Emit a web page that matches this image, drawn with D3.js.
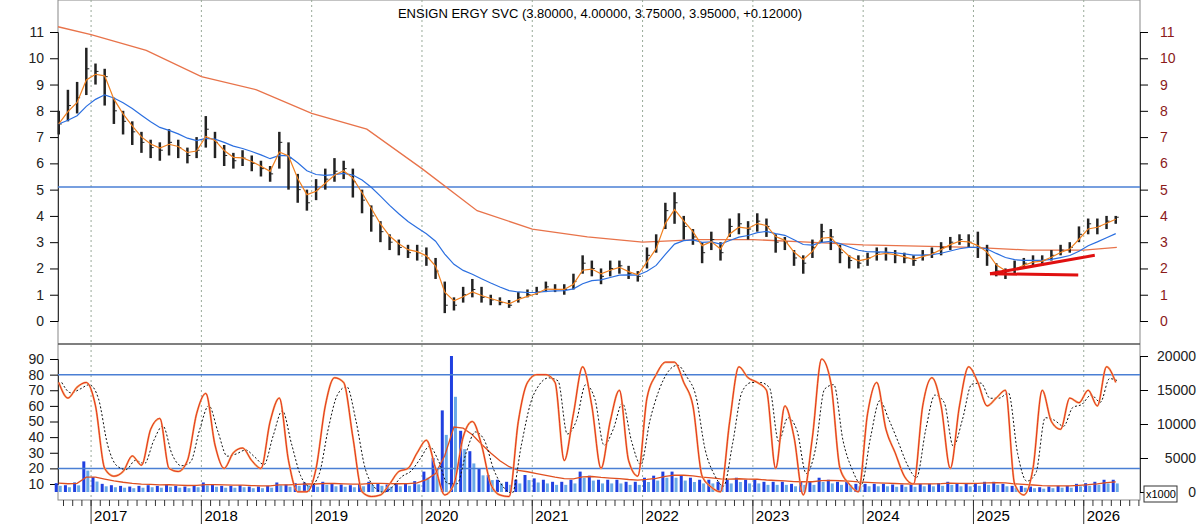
<!DOCTYPE html><html><head><meta charset="utf-8">
<script src="https://cdn.jsdelivr.net/npm/d3@7"></script>
<style>body{margin:0;background:#fff}svg{font-family:Arial,"Liberation Sans",sans-serif}</style></head><body>
<svg id="c" width="1200" height="524"></svg>
<script>
// monthly data, Sep 2016 .. Apr 2026
const closes=[7.5,8.2,8.5,9.6,9.5,9.3,8.0,7.6,7.2,6.8,6.6,6.5,6.8,6.6,6.3,6.5,7.3,6.8,6.3,6.1,6.2,6.0,5.8,5.6,6.8,6.2,5.0,4.5,5.0,5.4,5.7,5.8,5.3,4.6,4.0,3.4,3.0,2.8,2.6,2.6,2.4,1.9,0.6,0.6,1.0,1.2,0.9,0.8,0.7,0.6,0.9,1.0,1.1,1.3,1.2,1.2,1.5,2.2,2.0,1.7,2.0,2.1,1.8,1.7,2.5,3.0,4.2,4.5,3.6,3.2,2.6,3.1,2.6,3.6,3.7,3.5,3.8,3.6,3.0,3.0,2.4,2.2,2.8,3.4,3.2,2.6,2.3,2.2,2.4,2.6,2.6,2.5,2.4,2.3,2.5,2.6,2.8,3.0,3.1,3.0,2.8,2.5,1.9,1.8,2.0,2.2,2.3,2.3,2.5,2.7,2.8,3.3,3.7,3.6,3.8,3.95];
const highs=[8.0,8.8,9.1,10.4,9.8,9.6,8.5,8.0,7.6,7.2,6.9,6.8,7.3,6.9,6.6,7.0,7.8,7.2,6.7,6.4,6.5,6.3,6.1,5.9,7.2,6.8,5.6,5.0,5.4,5.8,6.2,6.1,5.8,5.0,4.4,3.8,3.3,3.1,2.9,2.9,2.8,2.4,1.5,0.9,1.3,1.6,1.3,1.0,0.9,0.8,1.1,1.2,1.3,1.5,1.4,1.4,1.8,2.5,2.3,2.0,2.3,2.3,2.1,1.9,2.8,3.3,4.5,4.9,4.0,3.5,3.0,3.4,3.0,3.9,4.1,3.8,4.1,3.9,3.3,3.2,2.7,2.5,3.1,3.7,3.5,2.9,2.5,2.5,2.6,2.8,2.8,2.7,2.6,2.5,2.7,2.8,3.0,3.2,3.3,3.3,3.4,2.9,2.2,2.0,2.3,2.4,2.5,2.5,2.7,2.9,3.0,3.6,3.9,3.9,4.0,4.0];
const lows=[7.1,7.6,7.9,8.6,9.0,8.2,7.5,7.1,6.7,6.4,6.2,6.1,6.3,6.2,6.0,6.2,6.6,6.2,5.9,5.8,5.9,5.7,5.5,5.3,5.8,5.0,4.5,4.2,4.6,5.0,5.3,5.4,4.7,4.1,3.4,3.0,2.7,2.5,2.4,2.3,2.1,1.6,0.3,0.4,0.7,0.9,0.7,0.6,0.6,0.5,0.7,0.9,1.0,1.1,1.1,1.0,1.2,1.8,1.7,1.4,1.7,1.8,1.6,1.5,2.0,2.6,3.5,3.7,3.1,2.9,2.2,2.7,2.3,3.2,3.3,3.1,3.4,3.2,2.6,2.7,2.1,1.8,2.4,3.0,2.7,2.2,2.0,2.0,2.1,2.3,2.3,2.2,2.2,2.1,2.3,2.4,2.5,2.7,2.9,2.8,2.4,2.1,1.7,1.6,1.8,2.0,2.1,2.1,2.3,2.5,2.6,3.0,3.3,3.3,3.5,3.7];
const stoch=[75,65,72,75,60,20,15,18,28,22,45,52,20,18,25,55,68,35,20,30,33,25,20,50,65,25,5,5,20,60,78,75,40,5,2,3,10,18,20,30,38,20,3,10,40,50,35,10,3,2,50,75,80,80,75,25,55,85,60,20,50,70,25,15,65,80,88,88,75,60,15,8,5,50,85,78,75,70,20,60,40,3,40,90,75,20,10,5,55,75,45,30,15,10,60,78,60,20,60,85,75,60,65,70,10,3,20,70,50,45,65,62,70,60,85,75];
const volume=[1300,1000,1400,4500,2200,1200,1000,900,800,900,1000,900,1100,900,800,1000,1400,1100,900,900,1000,800,800,900,1400,1100,1300,1400,1100,1500,1200,1100,1000,1200,1500,1300,1100,1200,1300,1600,3000,5000,12000,20000,9000,6000,3500,2500,1800,1500,1800,2500,2000,1800,1500,1500,1800,3000,2400,1800,1800,1800,1500,1500,2100,2400,3000,3000,2400,2100,1800,1800,1500,1800,2100,1800,1800,1500,1500,1500,1200,1500,1500,2100,1800,1500,1500,1200,1200,1200,1200,1100,1100,1100,1200,1200,1300,1500,1200,1200,1300,1500,1500,1200,900,900,800,700,800,900,900,1200,1300,1500,1800,1800];
const longMA=[[2016.7,11.2],[2017.0,10.9],[2017.5,10.3],[2018.0,9.3],[2018.5,8.8],[2019.0,7.9],[2019.5,7.3],[2020.0,5.8],[2020.5,4.2],[2021.0,3.5],[2021.5,3.2],[2022.0,3.0],[2022.5,3.1],[2023.0,3.1],[2023.5,3.0],[2024.0,2.9],[2024.5,2.85],[2025.0,2.8],[2025.5,2.7],[2026.0,2.7],[2026.3,2.8]];
const years=[2017,2018,2019,2020,2021,2022,2023,2024,2025,2026];
const priceTicks=[0,1,2,3,4,5,6,7,8,9,10,11];
const stochTicks=[10,20,30,40,50,60,70,80,90];
const volTicks=[0,5000,10000,15000,20000];
const support=5.1, trendA=[[2025.15,1.8],[2026.1,2.5]], trendB=[[2025.15,1.8],[2025.95,1.75]];

const svg=d3.select("#c");
const L=58,R=1140,T0=0,B0=344,B1=500;
const n=Math.min(closes.length,highs.length,lows.length,stoch.length,volume.length);
const t=i=>2016+8/12+i/12+0.04;
const x=d3.scaleLinear().domain([2016.70,2026.51]).range([L,R]);
const y=d3.scaleLinear().domain([0,11]).range([321,32]);
const ys=d3.scaleLinear().domain([10,90]).range([484,359]);
const yv=d3.scaleLinear().domain([0,20000]).range([492,356]);
const ema=(a,p)=>{const k=2/(p+1);let r=[],v=a[0];a.forEach((d,i)=>{v=i?d*k+v*(1-k):d;r.push(v)});return r};

svg.append("rect").attr("x",L).attr("y",T0).attr("width",R-L).attr("height",B1-T0).attr("fill","none").attr("stroke","#888");
years.forEach(yr=>{svg.append("line").attr("x1",x(yr)).attr("x2",x(yr)).attr("y1",T0).attr("y2",B1).attr("stroke","#9a9").attr("stroke-dasharray","2,3");
 svg.append("line").attr("x1",x(yr)).attr("x2",x(yr)).attr("y1",B1).attr("y2",524).attr("stroke","#333");
 svg.append("text").attr("x",x(yr)+3).attr("y",521).attr("font-size",15).text(yr);});
for(let m=2016+9/12;m<2026.5;m+=1/12){svg.append("line").attr("x1",x(m)).attr("x2",x(m)).attr("y1",B1).attr("y2",B1+6).attr("stroke","#333");}
svg.append("g").attr("transform",`translate(${L},0)`).call(d3.axisLeft(y).tickValues(priceTicks).tickSize(8).tickPadding(6).tickFormat(d3.format("d")));
const axR=svg.append("g").attr("transform",`translate(${R},0)`).call(d3.axisRight(y).tickValues(priceTicks).tickSize(8).tickPadding(12).tickFormat(d3.format("d")));
axR.selectAll("text").attr("fill","#8b1a1a");
svg.append("g").attr("transform",`translate(${L},0)`).call(d3.axisLeft(ys).tickValues(stochTicks).tickSize(8).tickPadding(6));
const axV=svg.append("g").attr("transform",`translate(${R},0)`).call(d3.axisRight(yv).tickValues(volTicks).tickSize(8).tickFormat(d3.format("d")));
axV.selectAll("text").attr("text-anchor","end").attr("x",56);
svg.selectAll(".domain").attr("stroke","#333");svg.selectAll(".tick text").attr("font-size",14).attr("fill",function(){return d3.select(this).attr("fill")==="#8b1a1a"?"#8b1a1a":"#222"});
svg.append("line").attr("x1",L).attr("x2",R).attr("y1",B0).attr("y2",B0).attr("stroke","#555").attr("stroke-width",1.5);
svg.append("rect").attr("x",1144).attr("y",486).attr("width",33).attr("height",16).attr("fill","#fff").attr("stroke","#333");
svg.append("text").attr("x",1146).attr("y",498).attr("font-size",11).text("x1000");
svg.append("text").attr("x",600).attr("y",18).attr("text-anchor","middle").attr("font-size",13).text("ENSIGN ERGY SVC (3.80000, 4.00000, 3.75000, 3.95000, +0.12000)");
const line=d3.line();
svg.append("line").attr("x1",L).attr("x2",R).attr("y1",y(support)).attr("y2",y(support)).attr("stroke","#4a7fd4").attr("stroke-width",1.5);
svg.append("path").attr("d",line(longMA.map(d=>[x(d[0]),y(d[1])]))).attr("fill","none").attr("stroke","#e8734a").attr("stroke-width",1.3);
for(let i=0;i<n;i++){svg.append("line").attr("x1",x(t(i))).attr("x2",x(t(i))).attr("y1",y(highs[i])).attr("y2",y(lows[i])).attr("stroke","#222").attr("stroke-width",2.5);
 svg.append("line").attr("x1",x(t(i))).attr("x2",x(t(i))+3).attr("y1",y(closes[i])).attr("y2",y(closes[i])).attr("stroke","#222");}
const c=closes.slice(0,n),mf=ema(c,2),ms=ema(c,9);
svg.append("path").attr("d",line(ms.map((v,i)=>[x(t(i)),y(v)]))).attr("fill","none").attr("stroke","#2b6fe0").attr("stroke-width",1.2);
svg.append("path").attr("d",line(mf.map((v,i)=>[x(t(i)),y(v)]))).attr("fill","none").attr("stroke","#f08020").attr("stroke-width",1.2);
[trendA,trendB].forEach(tr=>svg.append("path").attr("d",line(tr.map(d=>[x(d[0]),y(d[1])]))).attr("stroke","#e01010").attr("stroke-width",3));
for(let i=0;i<n;i++){svg.append("rect").attr("x",x(t(i))-4).attr("width",3).attr("y",yv(volume[i])).attr("height",yv(0)-yv(volume[i])).attr("fill","#2040e0");
 svg.append("rect").attr("x",x(t(i))).attr("width",3).attr("y",yv(volume[i]*0.7)).attr("height",yv(0)-yv(volume[i]*0.7)).attr("fill","#6aaae8");}
const vma=ema(volume.slice(0,n),6);
svg.append("path").attr("d",line(vma.map((v,i)=>[x(t(i)),yv(v)]))).attr("fill","none").attr("stroke","#e05020").attr("stroke-width",1.3);
[80,20].forEach(v=>svg.append("line").attr("x1",L).attr("x2",R).attr("y1",ys(v)).attr("y2",ys(v)).attr("stroke","#4a7fd4").attr("stroke-width",1.5));
const s=stoch.slice(0,n),sd=ema(s,2);
const cl=d3.line().curve(d3.curveMonotoneX);
svg.append("path").attr("d",cl(sd.map((v,i)=>[x(t(i))+3,ys(v)]))).attr("fill","none").attr("stroke","#111").attr("stroke-dasharray","2,2");
svg.append("path").attr("d",cl(s.map((v,i)=>[x(t(i)),ys(v)]))).attr("fill","none").attr("stroke","#f5a860").attr("stroke-width",2);
svg.append("path").attr("d",cl(s.map((v,i)=>[x(t(i)),ys(v)]))).attr("fill","none").attr("stroke","#e01010").attr("stroke-width",0.8);
</script></body></html>
